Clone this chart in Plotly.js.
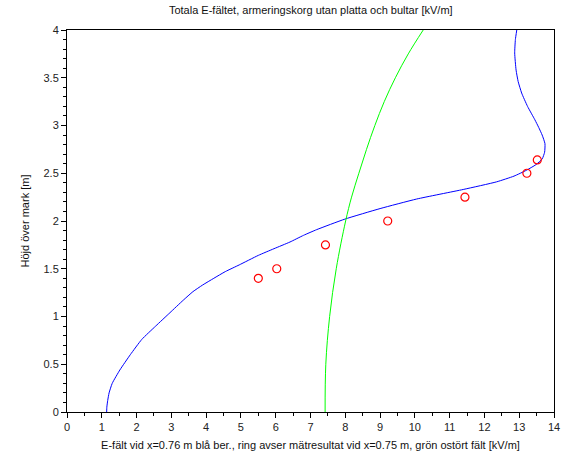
<!DOCTYPE html>
<html>
<head>
<meta charset="utf-8">
<script src="https://cdn.plot.ly/plotly-3.0.1.min.js"></script>
<style>html,body{margin:0;padding:0;background:#fff;}#chart{width:562px;height:461px;}</style>
</head>
<body>
<div id="chart"></div>
<script>
// Blue: calculated field at x=0.76 m (height, field)
const blueHeight = [0, 0.05, 0.12, 0.2, 0.3, 0.44, 0.6, 0.76, 0.9, 1.04, 1.17, 1.26, 1.33, 1.40, 1.47, 1.54, 1.64, 1.71, 1.78, 1.85, 1.91, 2.02, 2.13, 2.23, 2.33, 2.41, 2.47, 2.53, 2.59, 2.65, 2.72, 2.81, 2.90, 2.98, 3.06, 3.2, 3.34, 3.46, 3.58, 3.76, 3.9, 4.0];
const blueField  = [1.14, 1.145, 1.17, 1.21, 1.30, 1.52, 1.82, 2.15, 2.55, 2.96, 3.34, 3.62, 3.90, 4.22, 4.55, 4.95, 5.50, 5.95, 6.41, 6.80, 7.18, 7.99, 9.00, 10.05, 11.39, 12.35, 12.85, 13.20, 13.48, 13.66, 13.73, 13.74, 13.66, 13.56, 13.45, 13.24, 13.07, 12.97, 12.91, 12.87, 12.89, 12.93];
// Green: unperturbed field
const greenHeight = [0, 0.5, 1.0, 1.5, 2.0, 2.25, 2.5, 2.75, 3.0, 3.25, 3.5, 3.75, 4.0];
const greenField  = [7.42, 7.44, 7.55, 7.74, 8.01, 8.18, 8.39, 8.61, 8.85, 9.12, 9.44, 9.81, 10.24];
// Red rings: measurements at x=0.75 m
const measHeight = [1.4, 1.5, 1.75, 2.0, 2.25, 2.5, 2.64];
const measField  = [5.50, 6.03, 7.43, 9.22, 11.44, 13.22, 13.52];

const xTicks = [0,1,2,3,4,5,6,7,8,9,10,11,12,13,14];
const yTicks = [0,0.5,1,1.5,2,2.5,3,3.5,4];
const yTickText = ['0','0.5','1','1.5','2','2.5','3','3.5','4'];

const font = 'Liberation Sans, Arial, sans-serif';

const traces = [
  {x: blueField, y: blueHeight, mode: 'lines', line: {color: '#0000ff', width: 1, shape: 'spline', smoothing: 0.5}, hoverinfo: 'none'},
  {x: greenField, y: greenHeight, mode: 'lines', line: {color: '#00ff00', width: 1, shape: 'spline', smoothing: 1}, hoverinfo: 'none'},
  {x: measField, y: measHeight, mode: 'markers', marker: {symbol: 'circle-open', size: 8, color: '#ff0000', line: {width: 1.2, color: '#ff0000'}}, hoverinfo: 'none'}
];

const layout = {
  width: 562, height: 461,
  margin: {l: 67, r: 8, t: 30, b: 49},
  paper_bgcolor: '#ffffff', plot_bgcolor: '#ffffff',
  showlegend: false,
  font: {family: font, size: 11, color: '#222'},
  title: {text: 'Totala E-fältet, armeringskorg utan platta och bultar [kV/m]', font: {family: font, size: 11, color: '#111'}, x: 0.553, xanchor: 'center', y: 0.987, yanchor: 'top'},
  xaxis: {
    range: [0, 14], tickvals: xTicks, ticktext: xTicks.map(String),
    showgrid: false, zeroline: false, showline: true, linecolor: '#000', linewidth: 1, mirror: true,
    ticks: 'outside', ticklen: 5, tickcolor: '#000', tickwidth: 1,
    minor: {dtick: 0.5, ticks: 'outside', ticklen: 3, tickcolor: '#000', showgrid: false},
    tickfont: {family: font, size: 11, color: '#222'},
    title: {text: 'E-fält vid x=0.76 m blå ber., ring avser mätresultat vid x=0.75 m, grön ostört fält [kV/m]', font: {family: font, size: 11, color: '#111'}, standoff: 9}
  },
  yaxis: {
    range: [0, 4], tickvals: yTicks, ticktext: yTickText,
    showgrid: false, zeroline: false, showline: true, linecolor: '#000', linewidth: 1, mirror: true,
    ticks: 'outside', ticklen: 5, tickcolor: '#000', tickwidth: 1,
    minor: {dtick: 0.1, ticks: 'outside', ticklen: 3, tickcolor: '#000', showgrid: false},
    tickfont: {family: font, size: 11, color: '#222'},
    title: {text: 'Höjd över mark [m]', font: {family: font, size: 11, color: '#111'}, standoff: 11}
  }
};

Plotly.newPlot('chart', traces, layout, {displayModeBar: false, staticPlot: true});
</script>
</body>
</html>
